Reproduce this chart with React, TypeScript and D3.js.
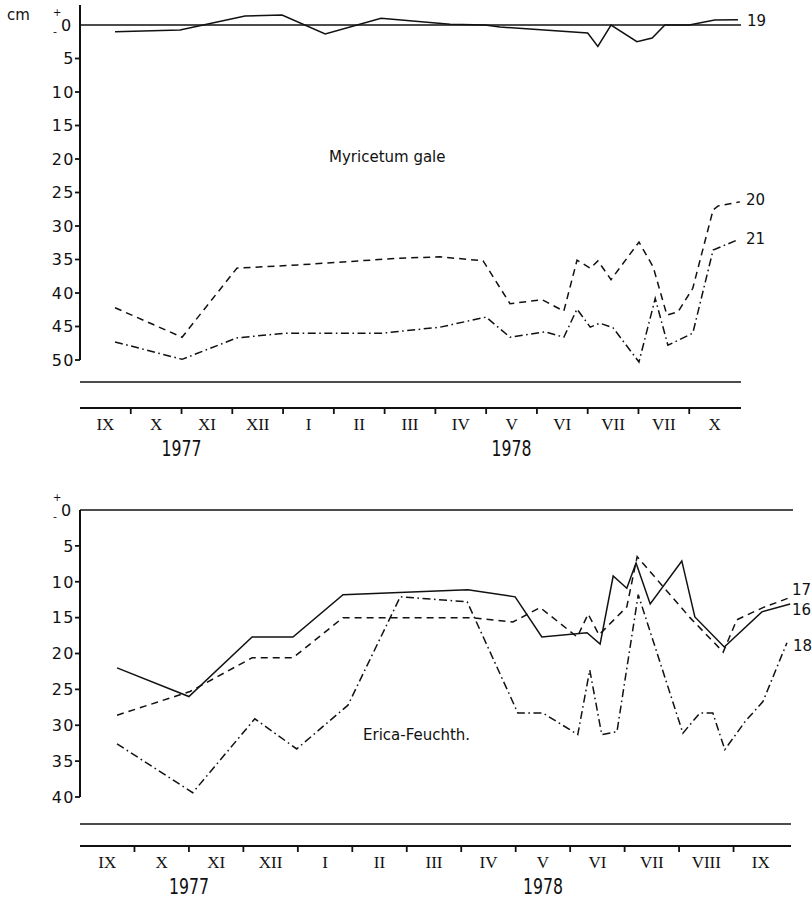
import React from "react";
import * as d3 from "d3";

// ---------- data ----------
const monthsTop = ["IX", "X", "XI", "XII", "I", "II", "III", "IV", "V", "VI", "VII", "VII", "X"];
const monthsBottom = ["IX", "X", "XI", "XII", "I", "II", "III", "IV", "V", "VI", "VII", "VIII", "IX"];
const yearLabels = ["1977", "1978"];
const ticksTop = [5, 10, 15, 20, 25, 30, 35, 40, 45, 50];
const ticksBottom = [5, 10, 15, 20, 25, 30, 35, 40];

// [months since start of Sept 1977, water table depth in cm (negative = above surface)]
const s19: [number, number][] = [
  [0.69, 1.0], [1.97, 0.75], [3.25, -1.35], [3.98, -1.5], [4.83, 1.35], [5.93, -1.0],
  [7.29, -0.1], [7.98, 0.0], [8.27, 0.3], [10.0, 1.2], [10.2, 3.2], [10.46, 0.0],
  [10.97, 2.5], [11.27, 1.95], [11.52, 0.0], [12.0, 0.0], [12.5, -0.75], [12.96, -0.8],
];
const s20: [number, number][] = [
  [0.69, 42.2], [2.01, 46.6], [3.09, 36.3], [4.33, 35.8], [6.3, 34.8], [7.09, 34.6],
  [7.94, 35.2], [8.47, 41.6], [9.1, 41.0], [9.53, 42.7], [9.79, 35.1], [10.05, 36.3],
  [10.2, 35.2], [10.46, 38.0], [11.01, 32.4], [11.29, 36.1], [11.56, 43.3], [11.78, 42.8],
  [12.07, 39.3], [12.47, 27.6], [12.57, 27.0], [13.0, 26.4],
];
const s21: [number, number][] = [
  [0.69, 47.3], [2.01, 49.9], [3.09, 46.7], [4.04, 46.0], [5.02, 46.0], [5.95, 46.0],
  [7.09, 45.1], [8.0, 43.6], [8.47, 46.6], [9.16, 45.8], [9.53, 46.6], [9.79, 42.4],
  [10.05, 45.1], [10.24, 44.5], [10.5, 45.2], [11.01, 50.3], [11.33, 40.8], [11.58, 47.8],
  [12.07, 46.0], [12.47, 33.6], [12.94, 32.1],
];
const s16: [number, number][] = [
  [0.68, 22.0], [2.0, 26.0], [3.16, 17.7], [3.91, 17.7], [4.83, 11.8], [7.12, 11.1],
  [7.99, 12.1], [8.48, 17.7], [9.31, 17.1], [9.55, 18.7], [9.79, 9.2], [10.04, 10.9],
  [10.21, 7.4], [10.47, 13.1], [11.05, 7.1], [11.29, 14.9], [11.83, 19.1], [12.52, 14.2],
  [13.04, 13.1],
];
const s17: [number, number][] = [
  [0.68, 28.6], [2.02, 25.3], [3.16, 20.6], [3.91, 20.6], [4.83, 15.0], [7.16, 15.0],
  [7.95, 15.6], [8.45, 13.6], [9.13, 17.7], [9.33, 14.5], [9.53, 17.4], [10.04, 13.5],
  [10.23, 6.5], [11.2, 15.0], [11.81, 19.8], [12.06, 15.3], [12.54, 13.6], [13.0, 12.3],
];
const s18: [number, number][] = [
  [0.68, 32.6], [2.07, 39.4], [3.21, 29.1], [3.98, 33.3], [4.92, 27.2], [5.88, 12.1],
  [7.11, 12.8], [8.04, 28.3], [8.5, 28.3], [9.14, 31.3], [9.36, 22.3], [9.58, 31.3],
  [9.86, 30.9], [10.25, 11.8], [11.07, 31.1], [11.38, 28.3], [11.62, 28.3], [11.84, 33.4],
  [12.21, 29.5], [12.54, 26.7], [12.98, 18.5],
];

// ---------- styles ----------
const INK = "#111";
const SANS = "DejaVu Sans, sans-serif";
const SERIF = "Liberation Serif, serif";
const DASH = "7,5";
const DASHDOT = "8,3.5,1.6,3.5";

type Panel = {
  x: d3.ScaleLinear<number, number>;
  y: d3.ScaleLinear<number, number>;
  yTop: number;
  ticks: number[];
  months: string[];
  sepY: number;
  axisY: number;
  lineEnd: number;
  zeroEnd: number;
  title: string;
  titleX: number;
  titleY: number;
  series: { data: [number, number][]; dash?: string; label: string; lx: number; ly: number }[];
};

function PanelView({ p }: { p: Panel }) {
  const line = d3
    .line<[number, number]>()
    .x((d) => p.x(d[0]))
    .y((d) => p.y(d[1]));
  const x0 = p.x(0);
  const y0 = p.y(0);
  const yMax = p.y(p.ticks[p.ticks.length - 1]);
  return (
    <g>
      <line x1={x0} x2={x0} y1={p.yTop} y2={yMax} stroke={INK} strokeWidth={2} />
      <line x1={x0} x2={p.zeroEnd} y1={y0} y2={y0} stroke={INK} strokeWidth={1.7} />
      {p.ticks.map((t) => (
        <g key={t}>
          <line x1={x0 - 5} x2={x0} y1={p.y(t)} y2={p.y(t)} stroke={INK} strokeWidth={1.8} />
          <text
            x={x0 - 5}
            y={p.y(t)}
            dy="0.36em"
            textAnchor="end"
            fontFamily={SANS}
            fontSize={16}
            letterSpacing={1.5}
            fill={INK}
          >
            {t}
          </text>
        </g>
      ))}
      <text x={x0 - 27} y={y0 - 9} fontFamily={SANS} fontSize={10} fill={INK}>+</text>
      <text x={x0 - 19} y={y0} dy="0.36em" fontFamily={SANS} fontSize={16} fill={INK}>0</text>
      <text x={x0 - 27} y={y0 + 10} fontFamily={SANS} fontSize={11} fill={INK}>-</text>
      {p.series.map((s) => (
        <g key={s.label}>
          <path d={line(s.data) || ""} fill="none" stroke={INK} strokeWidth={1.5} strokeDasharray={s.dash} />
          <text x={s.lx} y={s.ly} dy="0.36em" fontFamily={SANS} fontSize={15} fill={INK}>
            {s.label}
          </text>
        </g>
      ))}
      <text x={p.titleX} y={p.titleY} dy="0.36em" fontFamily={SANS} fontSize={15} fill={INK}>
        {p.title}
      </text>
      <line x1={x0} x2={p.lineEnd} y1={p.sepY} y2={p.sepY} stroke={INK} strokeWidth={1.6} />
      <line x1={x0} x2={p.lineEnd} y1={p.axisY} y2={p.axisY} stroke={INK} strokeWidth={1.9} />
      {p.months.map((m, i) => (
        <g key={i}>
          {i > 0 && (
            <line x1={p.x(i)} x2={p.x(i)} y1={p.axisY} y2={p.axisY + 6} stroke={INK} strokeWidth={1.8} />
          )}
          <text
            x={p.x(i + 0.5)}
            y={p.axisY + 16}
            dy="0.36em"
            textAnchor="middle"
            fontFamily={SERIF}
            fontSize={17}
            fill={INK}
          >
            {m}
          </text>
        </g>
      ))}
      {yearLabels.map((yl, i) => (
        <text
          key={yl}
          x={p.x(i === 0 ? 2 : 8.5)}
          y={p.axisY + 40}
          dy="0.36em"
          textAnchor="middle"
          fontFamily={SANS}
          fontSize={22}
          textLength={40}
          lengthAdjust="spacingAndGlyphs"
          fill={INK}
        >
          {yl}
        </text>
      ))}
    </g>
  );
}

export default function App() {
  const top: Panel = {
    x: d3.scaleLinear().domain([0, 13]).range([80, 740]),
    y: d3.scaleLinear().domain([0, 50]).range([25, 360]),
    yTop: 5,
    ticks: ticksTop,
    months: monthsTop,
    sepY: 382,
    axisY: 408,
    lineEnd: 741,
    zeroEnd: 741,
    title: "Myricetum gale",
    titleX: 329,
    titleY: 157,
    series: [
      { data: s19, label: "19", lx: 747, ly: 21 },
      { data: s20, dash: DASH, label: "20", lx: 746, ly: 200 },
      { data: s21, dash: DASHDOT, label: "21", lx: 746, ly: 239 },
    ],
  };
  const bottom: Panel = {
    x: d3.scaleLinear().domain([0, 13]).range([80, 788]),
    y: d3.scaleLinear().domain([0, 40]).range([510, 797]),
    yTop: 510,
    ticks: ticksBottom,
    months: monthsBottom,
    sepY: 824,
    axisY: 846,
    lineEnd: 791,
    zeroEnd: 793,
    title: "Erica-Feuchth.",
    titleX: 363,
    titleY: 735,
    series: [
      { data: s16, label: "16", lx: 792, ly: 610 },
      { data: s17, dash: DASH, label: "17", lx: 792, ly: 590 },
      { data: s18, dash: DASHDOT, label: "18", lx: 793, ly: 646 },
    ],
  };
  return (
    <svg
      width={812}
      height={898}
      style={{ position: "absolute", left: 0, top: 0, background: "#fff" }}
    >
      <rect width={812} height={898} fill="#fff" />
      <text x={7} y={15} dy="0.36em" fontFamily={SANS} fontSize={15} fill={INK}>cm</text>
      <PanelView p={top} />
      <PanelView p={bottom} />
    </svg>
  );
}
